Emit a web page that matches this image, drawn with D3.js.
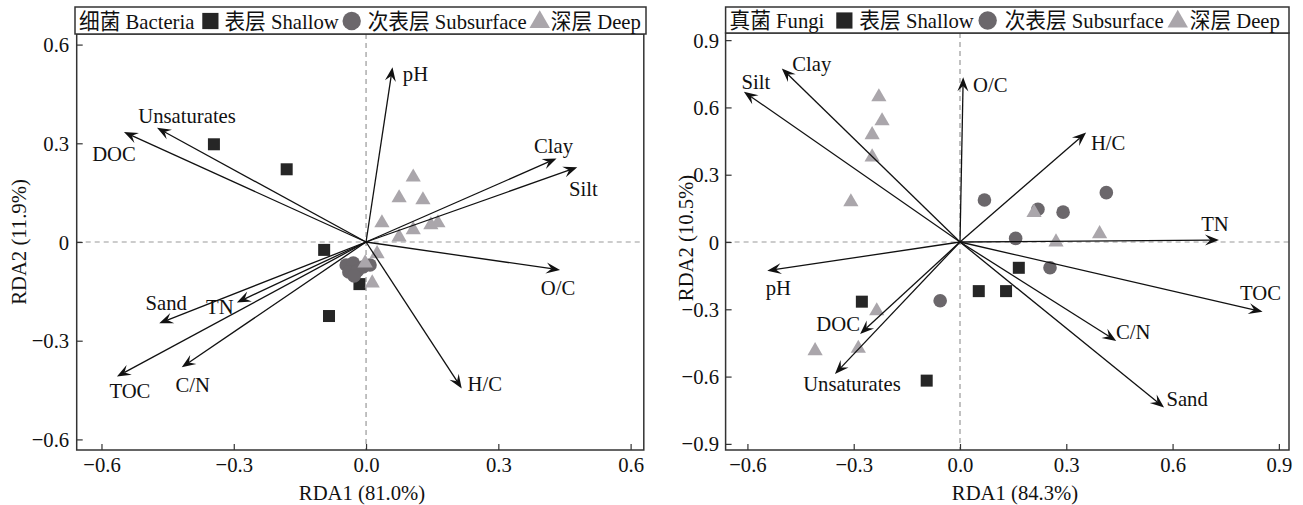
<!DOCTYPE html>
<html>
<head>
<meta charset="utf-8">
<script src="https://cdn.jsdelivr.net/npm/d3@7"></script>
<style>
  body { margin: 0; background: #fff; }
  svg { display: block; }
  text { font-family: "Liberation Serif", "Times New Roman", "Noto Sans CJK SC", serif; }
</style>
</head>
<body>
<svg id="chart" width="1303" height="505"></svg>
<script>
// ---------------- Bacteria RDA ----------------
const bacEnvNames = ["pH", "Clay", "Silt", "O/C", "H/C", "TOC", "C/N", "Sand", "TN", "DOC", "Unsaturates"];
const bacEnvRDA1  = [0.060, 0.432, 0.479, 0.440, 0.217, -0.565, -0.418, -0.469, -0.293, -0.549, -0.474];
const bacEnvRDA2  = [0.531, 0.254, 0.227, -0.085, -0.445, -0.409, -0.381, -0.247, -0.184, 0.334, 0.347];

const bacShallowRDA1 = [-0.345, -0.180, -0.095, -0.015, -0.084];
const bacShallowRDA2 = [0.297, 0.221, -0.024, -0.128, -0.225];
const bacSubRDA1 = [-0.045, -0.029, -0.039, -0.020, -0.007, 0.009, -0.027];
const bacSubRDA2 = [-0.070, -0.064, -0.091, -0.088, -0.076, -0.070, -0.103];
const bacDeepRDA1 = [0.107, 0.075, 0.129, 0.036, 0.107, 0.075, 0.147, 0.163, 0.025, -0.002, 0.014];
const bacDeepRDA2 = [0.200, 0.137, 0.131, 0.061, 0.040, 0.018, 0.055, 0.061, -0.033, -0.061, -0.122];

const bacXTicks = [-0.6, -0.3, 0, 0.3, 0.6];
const bacYTicks = [-0.6, -0.3, 0, 0.3, 0.6];
const bacXTitle = "RDA1 (81.0%)";
const bacYTitle = "RDA2 (11.9%)";
const bacLegendTitle = "细菌 Bacteria";

// ---------------- Fungi RDA ----------------
const funEnvNames = ["Clay", "Silt", "O/C", "H/C", "TN", "pH", "DOC", "Unsaturates", "TOC", "C/N", "Sand"];
const funEnvRDA1  = [-0.503, -0.610, 0.009, 0.356, 0.731, -0.544, -0.282, -0.353, 0.854, 0.441, 0.576];
const funEnvRDA2  = [0.774, 0.670, 0.734, 0.488, 0.009, -0.128, -0.410, -0.588, -0.311, -0.441, -0.738];

const funShallowRDA1 = [-0.277, -0.094, 0.053, 0.130, 0.166];
const funShallowRDA2 = [-0.266, -0.618, -0.219, -0.219, -0.115];
const funSubRDA1 = [0.069, 0.220, 0.291, 0.413, 0.157, 0.254, -0.056];
const funSubRDA2 = [0.187, 0.146, 0.133, 0.220, 0.016, -0.115, -0.262];
const funDeepRDA1 = [-0.229, -0.220, -0.248, -0.248, -0.308, 0.209, 0.271, 0.394, -0.235, -0.409, -0.287];
const funDeepRDA2 = [0.651, 0.544, 0.482, 0.383, 0.183, 0.136, 0.004, 0.041, -0.303, -0.481, -0.470];

const funXTicks = [-0.6, -0.3, 0, 0.3, 0.6, 0.9];
const funYTicks = [-0.9, -0.6, -0.3, 0, 0.3, 0.6, 0.9];
const funXTitle = "RDA1 (84.3%)";
const funYTitle = "RDA2 (10.5%)";
const funLegendTitle = "真菌 Fungi";

// Group legend entries (shared)
const groupNames = ["表层 Shallow", "次表层 Subsurface", "深层 Deep"];

// ---------------- styling / layout ----------------
const FONT = 22;
const SX = 0.94;           // slightly condensed serif lettering
const INK = "#111";
const COL_SHALLOW = "#262626";
const COL_SUB = "#6b676b";
const COL_DEEP = "#aaa6ab";

// Offsets (px) of each vector label from its arrow tip
const bacLabelOffset = {
  "pH": [23, 6], "Clay": [-3, -13], "Silt": [6, 21], "O/C": [-2, 17], "H/C": [23, -5],
  "TOC": [13, 14], "C/N": [11, 17], "Sand": [7, -21], "TN": [-17, 4], "DOC": [-10, 21],
  "Unsaturates": [30, -13]
};
const funLabelOffset = {
  "Clay": [30, -5], "Silt": [12, -10], "O/C": [27, 7], "H/C": [22, 10], "TN": [-4, -17],
  "pH": [11, 17], "DOC": [-22, -11], "Unsaturates": [17, 9], "TOC": [-2, -19],
  "C/N": [17, -10], "Sand": [23, -9]
};

const svg = d3.select("#chart");

function label(g, x, y, s, anchor = "middle", size = FONT) {
  return g.append("text")
    .attr("transform", `translate(${x},${y}) scale(${SX},1)`)
    .attr("text-anchor", anchor)
    .attr("dy", "0.35em")
    .attr("font-size", size)
    .attr("fill", INK)
    .text(s);
}

function arrow(g, x0, y0, x1, y1) {
  const dx = x1 - x0, dy = y1 - y0, len = Math.hypot(dx, dy);
  const ux = dx / len, uy = dy / len, nx = -uy, ny = ux;
  const L = 14, Wd = 5.5;
  const bx = x1 - L * ux, by = y1 - L * uy;
  const ix = x1 - 0.62 * L * ux, iy = y1 - 0.62 * L * uy;
  g.append("line")
    .attr("x1", x0).attr("y1", y0).attr("x2", ix).attr("y2", iy)
    .attr("stroke", INK).attr("stroke-width", 1.3);
  g.append("path")
    .attr("d", `M${x1},${y1}L${bx + Wd * nx},${by + Wd * ny}L${ix},${iy}L${bx - Wd * nx},${by - Wd * ny}Z`)
    .attr("fill", INK);
}

function marker(g, kind, cx, cy, scale = 1) {
  if (kind === "square") {
    const s = 12 * scale;
    g.append("rect").attr("x", cx - s / 2).attr("y", cy - s / 2).attr("width", s).attr("height", s)
      .attr("fill", COL_SHALLOW);
  } else if (kind === "circle") {
    g.append("circle").attr("cx", cx).attr("cy", cy).attr("r", 6.8 * scale).attr("fill", COL_SUB);
  } else {
    g.append("path")
      .attr("d", d3.symbol(d3.symbolTriangle, 100 * scale * scale)())
      .attr("transform", `translate(${cx},${cy + 1})`)
      .attr("fill", COL_DEEP);
  }
}

function fmtX(v) { return d3.format(".1f")(v); }
function fmtY(v) { return v === 0 ? "0" : d3.format(".1f")(v); }

function drawPanel(cfg) {
  const g = svg.append("g");
  const x = d3.scaleLinear().domain(cfg.xDomain).range([cfg.left, cfg.right]);
  const y = d3.scaleLinear().domain(cfg.yDomain).range([cfg.bottom, cfg.top]);

  // zero reference lines
  g.append("line")
    .attr("x1", x(0)).attr("x2", x(0)).attr("y1", cfg.top).attr("y2", cfg.bottom)
    .attr("stroke", "#999").attr("stroke-width", 1.2).attr("stroke-dasharray", "5,4");
  g.append("line")
    .attr("x1", cfg.left).attr("x2", cfg.right).attr("y1", y(0)).attr("y2", y(0))
    .attr("stroke", "#999").attr("stroke-width", 1.2).attr("stroke-dasharray", "5,4");

  // axes (inward ticks)
  const gx = g.append("g").attr("transform", `translate(0,${cfg.bottom})`)
    .call(d3.axisBottom(x).tickValues(cfg.xTicks).tickSize(-6).tickPadding(6).tickFormat(fmtX));
  const gy = g.append("g").attr("transform", `translate(${cfg.left},0)`)
    .call(d3.axisLeft(y).tickValues(cfg.yTicks).tickSize(-6).tickPadding(cfg.yPad).tickFormat(fmtY));
  [gx, gy].forEach(a => {
    a.select(".domain").remove();
    a.attr("font-family", null).attr("font-size", null);
    a.selectAll("line").attr("stroke", "#333").attr("stroke-width", 1.2);
    a.selectAll("text").attr("font-size", FONT).attr("fill", INK)
      .attr("transform", `scale(${SX},1)`);
  });

  // axis titles
  label(g, cfg.xTitleX, 492, cfg.xTitle);
  g.append("text")
    .attr("transform", `translate(${cfg.yTitleX},${cfg.yTitleY}) rotate(-90) scale(${SX},1)`)
    .attr("text-anchor", "middle").attr("dy", "0.35em")
    .attr("font-size", FONT).attr("fill", INK)
    .text(cfg.yTitle);

  // samples
  const pts = g.append("g");
  cfg.shallow[0].forEach((v, i) => marker(pts, "square", x(v), y(cfg.shallow[1][i])));
  cfg.sub[0].forEach((v, i) => marker(pts, "circle", x(v), y(cfg.sub[1][i])));
  cfg.deep[0].forEach((v, i) => marker(pts, "triangle", x(v), y(cfg.deep[1][i])));

  // environmental vectors
  const vec = g.append("g");
  cfg.envNames.forEach((n, i) => {
    const tx = x(cfg.envX[i]), ty = y(cfg.envY[i]);
    arrow(vec, x(0), y(0), tx, ty);
    const off = cfg.labelOffset[n];
    label(vec, tx + off[0], ty + off[1], n);
  });

  // frame
  g.append("rect")
    .attr("x", cfg.left).attr("y", cfg.top)
    .attr("width", cfg.right - cfg.left).attr("height", cfg.bottom - cfg.top)
    .attr("fill", "none").attr("stroke", "#333").attr("stroke-width", 1.5);

  // legend strip
  const lg = g.append("g");
  lg.append("rect")
    .attr("x", cfg.legLeft).attr("y", 7)
    .attr("width", cfg.legRight - cfg.legLeft).attr("height", cfg.top - 7)
    .attr("fill", "#fff").attr("stroke", "#333").attr("stroke-width", 1.5);
  const ly = (7 + cfg.top) / 2 + 0.5;
  let cx = cfg.legLeft + 4;
  const t0 = label(lg, cx, ly, cfg.legendTitle, "start");
  cx += t0.node().getComputedTextLength() * SX;
  const kinds = ["square", "circle", "triangle"];
  kinds.forEach((k, i) => {
    cx += cfg.legGapBefore[i];
    marker(lg, k, cx + 8, ly, 1.35);
    cx += 16 + cfg.legGapAfter[i];
    const t = label(lg, cx, ly, groupNames[i], "start");
    cx += t.node().getComputedTextLength() * SX;
  });
}

drawPanel({
  left: 76.7, right: 643.8, top: 34, bottom: 450,
  xDomain: [-0.6562, 0.6299], yDomain: [-0.6322, 0.6322],
  xTicks: bacXTicks, yTicks: bacYTicks, yPad: 8,
  xTitle: bacXTitle, yTitle: bacYTitle, xTitleX: 362, yTitleX: 18, yTitleY: 242,
  shallow: [bacShallowRDA1, bacShallowRDA2],
  sub: [bacSubRDA1, bacSubRDA2],
  deep: [bacDeepRDA1, bacDeepRDA2],
  envNames: bacEnvNames, envX: bacEnvRDA1, envY: bacEnvRDA2,
  labelOffset: bacLabelOffset,
  legLeft: 75, legRight: 646, legendTitle: bacLegendTitle,
  legGapBefore: [8, 5, 5], legGapAfter: [6, 8, 3]
});

drawPanel({
  left: 725.6, right: 1289, top: 33, bottom: 450,
  xDomain: [-0.6616, 0.9286], yDomain: [-0.9273, 0.9318],
  xTicks: funXTicks, yTicks: funYTicks, yPad: 7,
  xTitle: funXTitle, yTitle: funYTitle, xTitleX: 1015, yTitleX: 685, yTitleY: 238,
  shallow: [funShallowRDA1, funShallowRDA2],
  sub: [funSubRDA1, funSubRDA2],
  deep: [funDeepRDA1, funDeepRDA2],
  envNames: funEnvNames, envX: funEnvRDA1, envY: funEnvRDA2,
  labelOffset: funLabelOffset,
  legLeft: 725.6, legRight: 1289, legendTitle: funLegendTitle,
  legGapBefore: [12, 6, 6], legGapAfter: [7, 9, 4]
});
</script>
</body>
</html>
